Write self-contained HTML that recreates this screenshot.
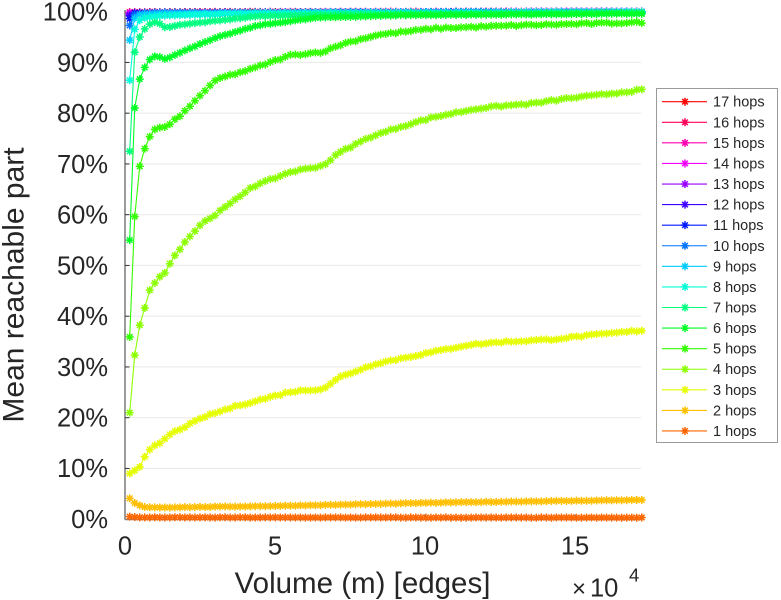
<!DOCTYPE html>
<html><head><meta charset="utf-8">
<style>
html,body{margin:0;padding:0;background:#fff;}
svg{display:block;font-family:"Liberation Sans",Arial,sans-serif;}
</style></head><body>
<svg id="c" width="781" height="600" viewBox="0 0 781 600" xmlns="http://www.w3.org/2000/svg">
<defs id="defs"></defs>
<rect width="781" height="600" fill="#fff"/>
<g stroke="#ebebeb" stroke-width="1.2">
<line x1="126" y1="468.45" x2="641" y2="468.45"/>
<line x1="126" y1="417.7" x2="641" y2="417.7"/>
<line x1="126" y1="366.95" x2="641" y2="366.95"/>
<line x1="126" y1="316.2" x2="641" y2="316.2"/>
<line x1="126" y1="265.45" x2="641" y2="265.45"/>
<line x1="126" y1="214.7" x2="641" y2="214.7"/>
<line x1="126" y1="163.95" x2="641" y2="163.95"/>
<line x1="126" y1="113.2" x2="641" y2="113.2"/>
<line x1="126" y1="62.45" x2="641" y2="62.45"/>
</g>
<g stroke="#7a7a7a" stroke-width="1.5">
<line x1="125" y1="10" x2="125" y2="519.8"/>
<line x1="125" y1="519.5" x2="641" y2="519.5"/>
</g>
<g stroke="#333" stroke-width="1">
<line x1="125" y1="468.45" x2="129.5" y2="468.45"/>
<line x1="125" y1="417.7" x2="129.5" y2="417.7"/>
<line x1="125" y1="366.95" x2="129.5" y2="366.95"/>
<line x1="125" y1="316.2" x2="129.5" y2="316.2"/>
<line x1="125" y1="265.45" x2="129.5" y2="265.45"/>
<line x1="125" y1="214.7" x2="129.5" y2="214.7"/>
<line x1="125" y1="163.95" x2="129.5" y2="163.95"/>
<line x1="125" y1="113.2" x2="129.5" y2="113.2"/>
<line x1="125" y1="62.45" x2="129.5" y2="62.45"/>
<line x1="275" y1="519" x2="275" y2="514.5"/>
<line x1="425" y1="519" x2="425" y2="514.5"/>
<line x1="575" y1="519" x2="575" y2="514.5"/>
</g>
<g id="series"></g>
<g fill="#262626" font-size="25.5" text-anchor="end">
<text x="108" y="528">0%</text>
<text x="108" y="477.2">10%</text>
<text x="108" y="426.5">20%</text>
<text x="108" y="375.8">30%</text>
<text x="108" y="325">40%</text>
<text x="108" y="274.3">50%</text>
<text x="108" y="223.5">60%</text>
<text x="108" y="172.8">70%</text>
<text x="108" y="122">80%</text>
<text x="108" y="71.3">90%</text>
<text x="108" y="20.5">100%</text>
</g>
<g fill="#262626" font-size="25.5" text-anchor="middle">
<text x="125" y="554.5">0</text>
<text x="275" y="554.5">5</text>
<text x="425" y="554.5">10</text>
<text x="575" y="554.5">15</text>
</g>
<text x="362.5" y="593" text-anchor="middle" font-size="29.5" fill="#262626">Volume (m) [edges]</text>
<text transform="translate(23.5,285) rotate(-90)" text-anchor="middle" font-size="30" fill="#262626">Mean reachable part</text>
<text x="572" y="596.5" font-size="24" fill="#262626">×</text>
<text x="590" y="596.5" font-size="25.5" fill="#262626">10</text>
<text x="629" y="581.7" font-size="18.5" fill="#262626">4</text>
<rect x="656.5" y="88.5" width="121" height="354" fill="#fff" stroke="#9a9a9a" stroke-width="1"/>
<g id="legend"></g>
<g fill="#262626" font-size="14.5">
<text x="713" y="106.7">17 hops</text>
<text x="713" y="127.3">16 hops</text>
<text x="713" y="147.9">15 hops</text>
<text x="713" y="168.4">14 hops</text>
<text x="713" y="189">13 hops</text>
<text x="713" y="209.6">12 hops</text>
<text x="713" y="230.2">11 hops</text>
<text x="713" y="250.8">10 hops</text>
<text x="713" y="271.3">9 hops</text>
<text x="713" y="291.9">8 hops</text>
<text x="713" y="312.5">7 hops</text>
<text x="713" y="333.1">6 hops</text>
<text x="713" y="353.7">5 hops</text>
<text x="713" y="374.2">4 hops</text>
<text x="713" y="394.8">3 hops</text>
<text x="713" y="415.4">2 hops</text>
<text x="713" y="436">1 hops</text>
</g>
</svg>
<script>
(function(){
var ns="http://www.w3.org/2000/svg";
var Y=function(p){return 519.2-5.075*p;};
var K={
1:[[129.7,0.5],[140,0.35],[641.7,0.3]],
2:[[129.7,4.1],[134.7,3.2],[139.7,2.7],[144.7,2.4],[160,2.3],[275,2.6],[450,3.3],[641.7,3.8]],
3:[[129.7,9],[134.7,9.6],[139.7,10.3],[144.7,12.3],[151.3,14],[161.3,15.2],[171.3,16.9],[184.7,18.2],[204.7,20.2],[218,21.1],[238,22.4],[258,23.4],[290,25.1],[323.3,25.7],[340,28],[376.7,30.7],[416.7,32.3],[466.7,34.3],[500,34.9],[550,35.4],[583.3,36.1],[641.7,37.2]],
4:[[129.7,21],[134.7,32.3],[139.7,38.2],[144.7,41.6],[149.7,45],[155.3,46.7],[161.3,48.3],[166.3,48.8],[171.3,51],[184.7,54.6],[201.3,58.2],[218,60.4],[238,63.3],[250,65.3],[290,68.4],[323.3,69.7],[340,72.3],[370,75.3],[400,77.3],[433.3,79.2],[476.7,80.9],[500,81.4],[533,81.9],[566.7,82.9],[600,83.6],[641.7,84.6]],
5:[[129.7,35.9],[134.7,59.6],[139.7,69.5],[144.7,73],[149.7,75.3],[156.3,77.2],[166.3,77.2],[188,80.9],[201.3,83.8],[218,86.8],[250,88.6],[290,91.4],[323.3,92.1],[343.3,93.7],[376.7,95.4],[433.3,96.7],[516.7,97.3],[641.7,97.9]],
6:[[129.7,55],[134.7,81],[139.7,86.7],[144.7,89],[149.7,90.6],[156,91.4],[166,90.6],[184.7,92.4],[218,95],[258,97.3],[316.7,98.8],[400,99.3],[641.7,99.6]],
7:[[129.7,72.5],[134.7,92],[139.7,95],[144.7,96.6],[149.7,97.5],[156,98],[161,97.5],[166,96.8],[180,97.4],[220,98.3],[258,99.1],[340,99.5],[641.7,99.8]],
8:[[129.7,86.5],[134.7,96.5],[139.7,98.3],[144.7,98.8],[160,99.2],[250,99.7],[641.7,99.9]],
9:[[129.7,94.4],[134.7,98.7],[140,99.4],[160,99.7],[641.7,99.95]],
10:[[129.7,97.3],[134.7,99.4],[145,99.8],[641.7,100]],
11:[[129.7,98.6],[134.7,99.7],[641.7,100]],
12:[[129.7,99.2],[134.7,99.8],[641.7,100]],
13:[[129.7,99.5],[641.7,100]],
14:[[129.7,99.8],[641.7,100]],
15:[[129.7,99.8],[641.7,100]],
16:[[129.7,99.9],[641.7,100]],
17:[[129.7,99.9],[641.7,100]]
};
function interp(kp,x){for(var i=0;i<kp.length-1;i++){if(x<=kp[i+1][0]){var a=kp[i],b=kp[i+1];return a[1]+(b[1]-a[1])*(x-a[0])/(b[0]-a[0]);}}return kp[kp.length-1][1];}
var seed=7;function rnd(){seed=(seed*16807)%2147483647;return seed/2147483647;}
function col(n){return "hsl("+(24+21*(n-1))+",100%,50%)";}
var defs=document.getElementById("defs"),g=document.getElementById("series"),lg=document.getElementById("legend");
var star="M1 5H9M5 1V9M2.2 2.2L7.8 7.8M7.8 2.2L2.2 7.8";
for(var n=17;n>=1;n--){
 var c=col(n);
 var m=document.createElementNS(ns,"marker");
 m.setAttribute("id","m"+n);m.setAttribute("markerWidth","10");m.setAttribute("markerHeight","10");
 m.setAttribute("refX","5");m.setAttribute("refY","5");m.setAttribute("markerUnits","userSpaceOnUse");
 m.setAttribute("overflow","visible");
 var mp=document.createElementNS(ns,"path");mp.setAttribute("d",star);mp.setAttribute("stroke",c);mp.setAttribute("stroke-width","1.5");mp.setAttribute("fill","none");
 m.appendChild(mp);defs.appendChild(m);
 var pts=[];
 for(var i=0;i<103;i++){var x=129.7+i*5.02;var p=interp(K[n],x);var jit=(n<=2)?0.08:((n<=5)?0.3:0.1);if(i>3)p+=(rnd()-0.5)*jit;if(p>100)p=100;pts.push(x.toFixed(2)+","+Y(p).toFixed(2));}
 var pl=document.createElementNS(ns,"polyline");
 pl.setAttribute("points",pts.join(" "));pl.setAttribute("fill","none");pl.setAttribute("stroke",c);pl.setAttribute("stroke-width","1.1");
 pl.setAttribute("marker-start","url(#m"+n+")");pl.setAttribute("marker-mid","url(#m"+n+")");pl.setAttribute("marker-end","url(#m"+n+")");
 g.appendChild(pl);
 var k=17-n,ry=101.7+20.58*k;
 var ll=document.createElementNS(ns,"polyline");
 ll.setAttribute("points","662,"+ry+" 685,"+ry+" 707,"+ry);ll.setAttribute("fill","none");ll.setAttribute("stroke",c);ll.setAttribute("stroke-width","1.1");
 ll.setAttribute("marker-mid","url(#m"+n+")");
 lg.appendChild(ll);
}
})();
</script>
</body></html>
